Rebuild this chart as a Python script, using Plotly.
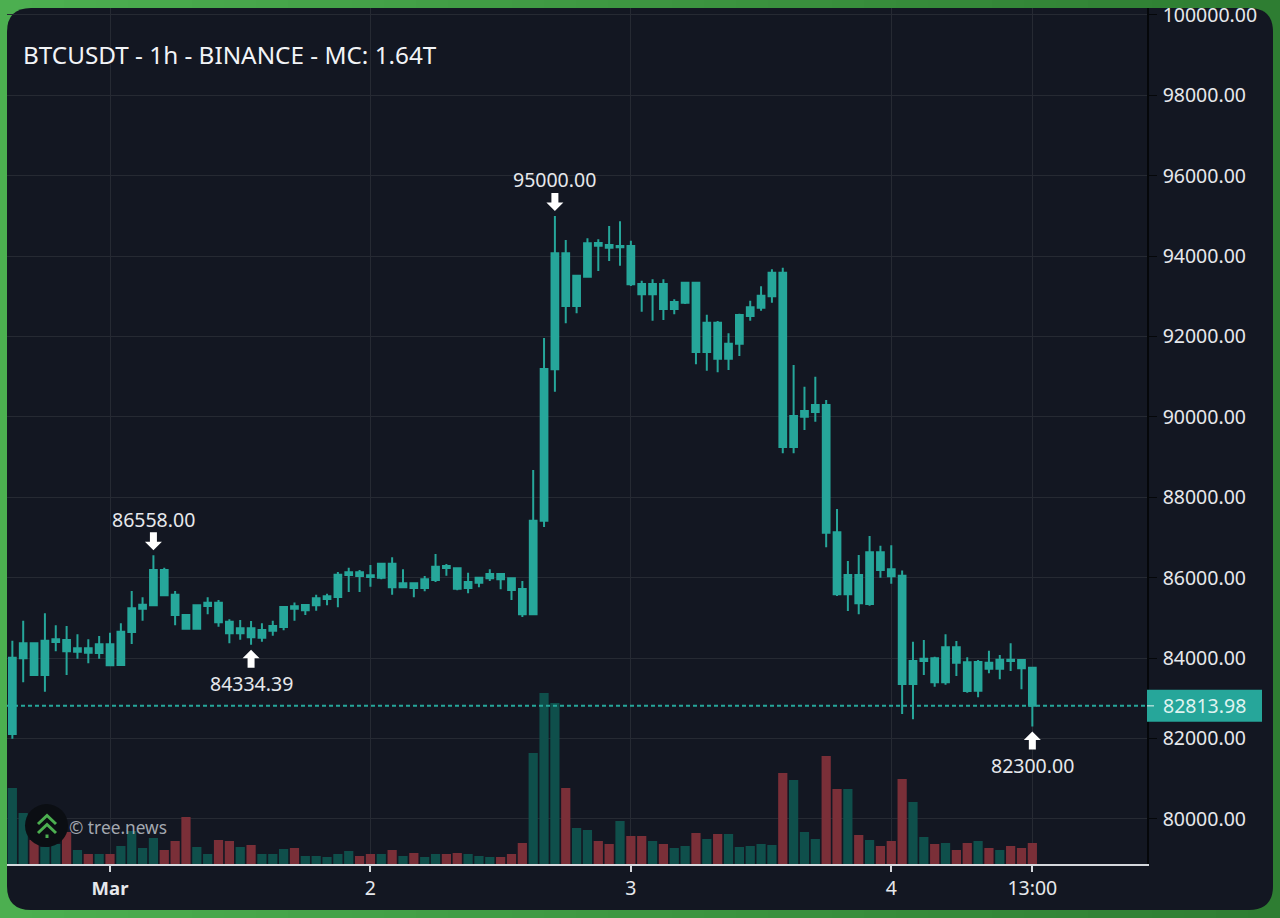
import pandas as pd
import plotly.graph_objects as go

# hourly candles
opens = [82114, 83997, 84370, 83581, 84402, 84452, 84161, 84245, 84129, 84345,
         83830, 84651, 85231, 85315, 86193, 85579, 85074, 84733, 85298, 85380,
         84907, 84619, 84743, 84509, 84683, 84775, 85290, 85191, 85315, 85472,
         85522, 86069, 86136, 86061, 86002, 86350, 85763, 85862, 85746, 85945,
         86293, 86236, 85746, 85877, 85987, 86094, 85987, 85721, 85091, 87420,
         91186, 94071, 92761, 93489, 94328, 94278, 94221, 94253, 93308, 93052,
         93308, 92686, 92843, 93340, 91616, 92345, 91450, 91823, 92512, 92718,
         93002, 93589, 89253, 90007, 90124, 90298, 87131, 85589, 86069, 85347,
         86634, 86211, 86051, 83357, 83930, 83997, 83400, 84270, 83897, 83191,
         83887, 83738, 83962, 83954, 83763]
highs = [84435, 84932, 84385, 85116, 84818, 84800, 84594, 84469, 84551, 84634,
         84867, 85671, 85514, 86558, 86251, 85671, 85086, 85330, 85514, 85447,
         84967, 84949, 84925, 84867, 84932, 85290, 85385, 85340, 85579, 85604,
         86144, 86251, 86193, 86318, 86367, 86509, 86211, 85877, 86044, 86591,
         86343, 86251, 86126, 86012, 86211, 86111, 86012, 85920, 88681, 91965,
         95000, 94402, 93532, 94445, 94420, 94751, 94867, 94385, 93390, 93425,
         93425, 92927, 93358, 93358, 92544, 92387, 92081, 92569, 92892, 93251,
         93674, 93713, 91293, 90753, 91002, 90422, 87711, 86417, 86566, 87039,
         86798, 86808, 86181, 84410, 84452, 84037, 84594, 84427, 84022, 83954,
         84186, 84079, 84370, 83979, 83775]
lows = [81997, 83400, 83564, 83166, 84171, 83581, 83987, 83872, 83987, 83805,
        83818, 84352, 84932, 85298, 85547, 84818, 84726, 84726, 85091, 84783,
        84370, 84459, 84334.39, 84410, 84559, 84693, 84932, 85074, 85181, 85315,
        85265, 85646, 85646, 85778, 85962, 85579, 85758, 85514, 85663, 85895,
        86051, 85688, 85614, 85763, 85920, 85713, 85447, 85024, 85074, 87263,
        90629, 92330, 92579, 93475, 93631, 93880, 93763, 93258, 92619, 92395,
        92412, 92554, 92810, 91310, 91151, 91111, 91168, 91517, 92395, 92644,
        92843, 89096, 89096, 89676, 89882, 86758, 85547, 85173, 85091, 85305,
        86002, 85852, 82611, 82479, 83581, 83290, 83340, 83556, 83141, 83027,
        83624, 83474, 83681, 83226, 82300]
closes = [84012, 84370, 83581, 84435, 84469, 84171, 84245, 84136, 84345, 83823,
          84658, 85241, 85330, 86193, 85564, 85074, 84733, 85315, 85380, 84892,
          84619, 84743, 84519, 84701, 84800, 85273, 85231, 85323, 85489, 85539,
          86076, 86136, 86044, 86019, 86350, 85763, 85862, 85746, 85962, 86275,
          86243, 85728, 85895, 86002, 86094, 85962, 85696, 85091, 87420, 91193,
          94071, 92761, 93514, 94320, 94261, 94211, 94253, 93300, 93052, 93308,
          92686, 92860, 93340, 91616, 92345, 91450, 91823, 92537, 92728, 93017,
          93589, 89253, 90024, 90149, 90298, 87121, 85589, 86069, 85365, 86634,
          86193, 86037, 83357, 83930, 83987, 83400, 84270, 83887, 83183, 83905,
          83738, 83962, 83930, 83748, 82813.98]
volumes = [76, 51, 24, 17, 20, 32, 14, 10, 10, 10,
           18, 33, 16, 26, 14, 23, 47, 17, 10, 24,
           23, 17, 19, 10, 10, 15, 16, 8, 8, 7,
           10, 13, 8, 10, 10, 14, 8, 11, 7, 10,
           10, 11, 10, 8, 7, 7, 10, 21, 111, 171,
           161, 76, 36, 34, 23, 20, 43, 28, 28, 23,
           20, 16, 18, 31, 25, 30, 30, 17, 18, 20,
           19, 91, 84, 32, 25, 108, 75, 75, 29, 24,
           18, 23, 85, 62, 27, 20, 21, 14, 21, 23,
           16, 14, 18, 16, 21]
times = pd.date_range("2025-02-28 15:00", periods=len(opens), freq="h")

tick_times = ["2025-03-01 00:00", "2025-03-02 00:00", "2025-03-03 00:00", "2025-03-04 00:00", "2025-03-04 13:00"]
tick_labels = ['<span style="font-size:18.5px"><b>Mar</b></span>', "2", "3", "4", "13:00"]

# extreme labels: index of candle, value, above or below
marks = [(13, 86558.00, "up"), (22, 84334.39, "down"), (50, 95000.00, "up"), (94, 82300.00, "down")]

title_text = "BTCUSDT - 1h - BINANCE - MC: 1.64T"
last_price = closes[-1]

TEAL = "#26a69a"
PANEL = "#131722"
GRID = "#262a33"
TEXT = "#e6e8ec"
FONT = "Noto Sans"
WIDTH, HEIGHT = 1280, 918


def paper_shape(**kw):
    # shape placed in page pixels, y going down from the top
    return dict(xref="paper", yref="paper", xsizemode="pixel", ysizemode="pixel", xanchor=0, yanchor=1, **kw)


def px_path(points, close=False):
    s = "M" + " L".join(f"{x},{-y}" for x, y in points)
    return s + (" Z" if close else "")


def rounded_rect(x0, y0, x1, y1, r):
    return (f"M{x0 + r},{-y0} L{x1 - r},{-y0} Q{x1},{-y0} {x1},{-y0 - r} "
            f"L{x1},{-y1 + r} Q{x1},{-y1} {x1 - r},{-y1} "
            f"L{x0 + r},{-y1} Q{x0},{-y1} {x0},{-y1 + r} "
            f"L{x0},{-y0 - r} Q{x0},{-y0} {x0 + r},{-y0} Z")


fig = go.Figure()

vol_colors = ["#0f4f4b" if c >= o else "#7a2f38" for o, c in zip(opens, closes)]
fig.add_trace(go.Bar(x=times, y=volumes, marker_color=vol_colors, marker_line_width=0, yaxis="y2", showlegend=False))

fig.add_trace(go.Candlestick(
    x=times, open=opens, high=highs, low=lows, close=closes,
    increasing=dict(line=dict(color=TEAL, width=2), fillcolor=TEAL),
    decreasing=dict(line=dict(color=TEAL, width=2), fillcolor=TEAL),
    whiskerwidth=0, showlegend=False,
))

shapes = []

# green border, going darker to the right
steps = 40
for i in range(steps):
    t = i / (steps - 1)
    col = f"rgb({round(76 - 30 * t)},{round(175 - 50 * t)},{round(80 - 30 * t)})"
    shapes.append(paper_shape(type="rect", x0=WIDTH * i / steps, x1=WIDTH * (i + 1) / steps + 1, y0=0, y1=-HEIGHT,
                              fillcolor=col, line_width=0, layer="below"))
shapes.append(paper_shape(type="path", path=rounded_rect(7, 8, 1273, 910, 24), fillcolor=PANEL, line_width=0, layer="below"))

# last price line and box
shapes.append(dict(type="line", xref="x", yref="y", x0="2025-02-28 14:30:24", x1="2025-03-04 23:34:00",
                   y0=last_price, y1=last_price, line=dict(color=TEAL, width=2, dash="4px,3px"), layer="above"))
shapes.append(dict(type="rect", xref="paper", yref="y", xsizemode="pixel", ysizemode="pixel", xanchor=0, yanchor=last_price,
                   x0=1147, x1=1262, y0=-16, y1=16, fillcolor=TEAL, line_width=0, layer="above"))
shapes.append(dict(type="line", xref="paper", yref="y", xsizemode="pixel", ysizemode="pixel", xanchor=0, yanchor=last_price,
                   x0=1147, x1=1154, y0=0, y1=0, line=dict(color="#e8f5f3", width=1), layer="above"))

# white arrows next to the extremes
annotations = []
for idx, value, side in marks:
    if side == "up":
        arrow = "M0,5 L-8.5,13.5 L-3.5,13.5 L-3.5,23 L3.5,23 L3.5,13.5 L8.5,13.5 Z"
        shift = 36
    else:
        arrow = "M0,-5 L-8.5,-13.5 L-3.5,-13.5 L-3.5,-23 L3.5,-23 L3.5,-13.5 L8.5,-13.5 Z"
        shift = -39
    shapes.append(dict(type="path", xref="x", yref="y", xsizemode="pixel", ysizemode="pixel",
                       xanchor=times[idx], yanchor=value, path=arrow, fillcolor="white", line_width=0, layer="above"))
    annotations.append(dict(x=times[idx], y=value, xref="x", yref="y", text=f"{value:.2f}", showarrow=False,
                            yshift=shift, xanchor="center", yanchor="middle", font=dict(family=FONT, size=19.5, color=TEXT)))

# logo in the corner
shapes.append(paper_shape(type="circle", x0=25, x1=68, y0=-804, y1=-847, fillcolor="#0b0e13", line_width=0, layer="above"))
LOGO = "#4caf50"
shapes.append(paper_shape(type="path", path=px_path([(38, 824), (47, 815.5), (56, 824)]), line=dict(color=LOGO, width=3), layer="above"))
shapes.append(paper_shape(type="path", path=px_path([(38, 833), (47, 824.5), (56, 833)]), line=dict(color=LOGO, width=3), layer="above"))
shapes.append(paper_shape(type="rect", x0=45.5, x1=48.5, y0=-834.5, y1=-838, fillcolor=LOGO, line_width=0, layer="above"))

annotations.append(dict(x=21 / WIDTH, y=1 - 55 / HEIGHT, xref="paper", yref="paper", text=title_text, showarrow=False,
                        xanchor="left", yanchor="middle", font=dict(family=FONT, size=24.3, color="#f2f4f7")))
annotations.append(dict(x=67 / WIDTH, y=1 - 827 / HEIGHT, xref="paper", yref="paper", text="© tree.news", showarrow=False,
                        xanchor="left", yanchor="middle", font=dict(family=FONT, size=17.3, color="#a3a8b0")))
annotations.append(dict(x=1161 / WIDTH, y=last_price, xref="paper", yref="y", text=f"{last_price:.2f}", showarrow=False,
                        xanchor="left", yanchor="middle", font=dict(family=FONT, size=19.5, color="#dff3f0")))

fig.update_layout(
    width=WIDTH, height=HEIGHT,
    margin=dict(l=0, r=0, t=0, b=0, autoexpand=False),
    paper_bgcolor=PANEL, plot_bgcolor="rgba(0,0,0,0)",
    bargap=0.15, boxgap=0.38, boxgroupgap=0,
    showlegend=False,
    shapes=shapes, annotations=annotations,
    xaxis=dict(
        domain=[7 / WIDTH, 1147 / WIDTH],
        type="date", range=["2025-02-28 14:30:24", "2025-03-04 23:34:00"],
        rangeslider_visible=False,
        tickmode="array", tickvals=tick_times, ticktext=tick_labels,
        showgrid=True, gridcolor=GRID, gridwidth=1,
        showline=True, linecolor="#d5d8dd", linewidth=1.5,
        ticks="outside", ticklen=6, tickcolor="#d5d8dd", tickwidth=1.5,
        tickangle=0, tickfont=dict(family=FONT, size=19.5, color=TEXT),
        zeroline=False,
    ),
    yaxis=dict(
        domain=[1 - 864 / HEIGHT, 1 - 8 / HEIGHT],
        range=[78880, 100174],
        side="right", dtick=2000, tick0=0, tickformat=".2f",
        showgrid=True, gridcolor=GRID, gridwidth=1,
        showline=True, linecolor="#05070a", linewidth=1.5,
        ticks="outside", ticklen=8, tickcolor="#05070a", tickwidth=1,
        ticklabelstandoff=2,
        tickfont=dict(family=FONT, size=19.5, color=TEXT),
        zeroline=False,
    ),
    yaxis2=dict(
        domain=[1 - 864 / HEIGHT, 1 - 8 / HEIGHT],
        overlaying="y", side="right", range=[0, 856], visible=False,
    ),
)

fig.write_html("out.html", config={"displayModeBar": False},
               post_script="document.body.style.margin='0';document.body.style.overflow='hidden';")
